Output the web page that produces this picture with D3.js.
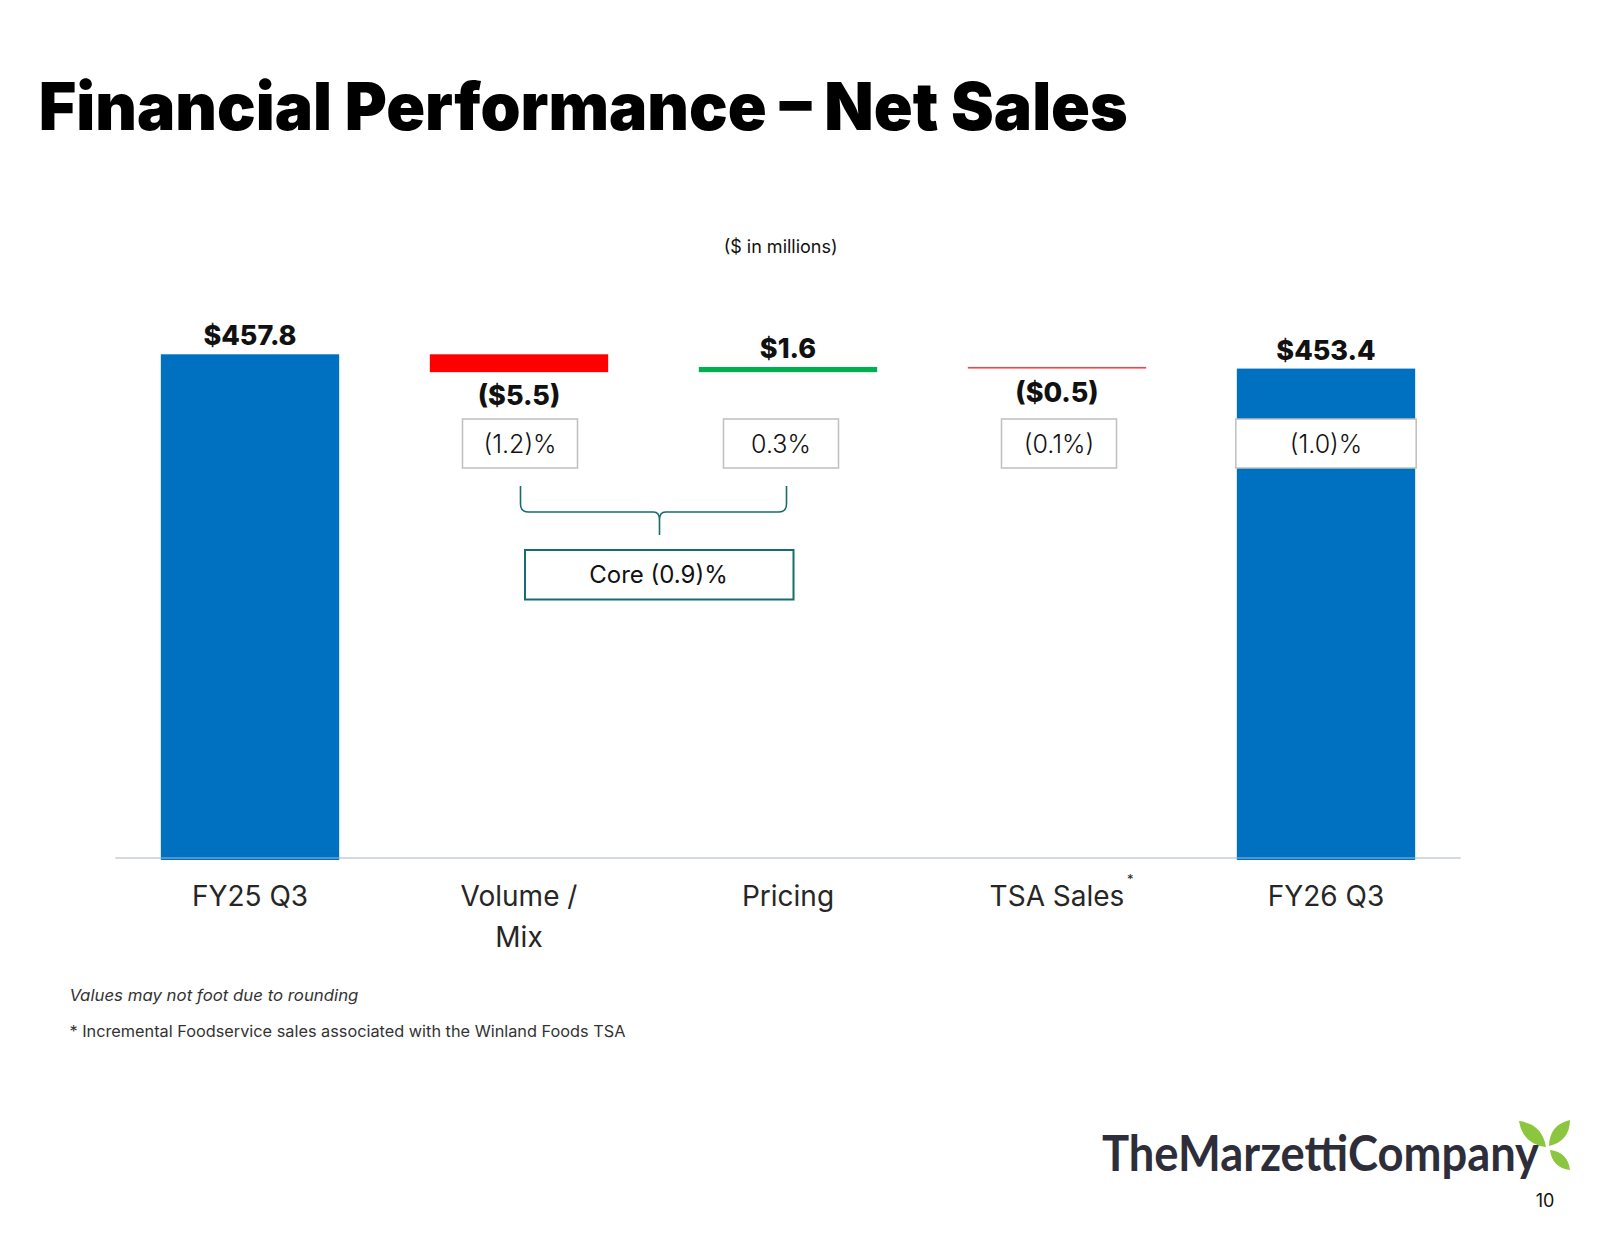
<!DOCTYPE html>
<html>
<head>
<meta charset="utf-8">
<script src="https://cdn.jsdelivr.net/npm/d3@7"></script>
<style>
  html, body { margin: 0; padding: 0; background: #fff; }
  svg { display: block; }
</style>
</head>
<body>
<svg id="chart" width="1600" height="1237"></svg>
<script>
// ---------------- DATA ----------------
const categories = ["FY25 Q3", "Volume / Mix", "Pricing", "TSA Sales", "FY26 Q3"];
const categoryLines = [["FY25 Q3"], ["Volume /", "Mix"], ["Pricing"], ["TSA Sales"], ["FY26 Q3"]];
const values = [457.8, -5.5, 1.6, -0.5, 453.4];
const kinds = ["total", "delta", "delta", "delta", "total"];
const valueLabels = ["$457.8", "($5.5)", "$1.6", "($0.5)", "$453.4"];
const pctLabels = [null, "(1.2)%", "0.3%", "(0.1%)", "(1.0)%"];
const coreLabel = "Core (0.9)%";
const coreGroup = ["Volume / Mix", "Pricing"];
const yDomain = [302, 457.8];

// ---------------- LAYOUT ----------------
const svg = d3.select("#chart");
const FONT = "Inter, 'Open Sans', sans-serif";

const x = d3.scaleBand().domain(categories).range([115.5, 1460.5]).paddingInner(0.337).paddingOuter(0.1685);
const y = d3.scaleLinear().domain(yDomain).range([860, 354.3]);

// waterfall
let run = 0;
const bars = categories.map((c, i) => {
  let lo, hi;
  if (kinds[i] === "total") { lo = yDomain[0]; hi = values[i]; run = values[i]; }
  else { const start = run; run = run + values[i]; lo = Math.min(start, run); hi = Math.max(start, run); }
  return { cat: c, v: values[i], kind: kinds[i], lo, hi, label: valueLabels[i], pct: pctLabels[i], i };
});
const colorFor = d => d.kind === "total" ? "#0070C0" : (d.v < 0 ? "#FF0000" : "#00B050");

// Title
svg.append("text")
  .attr("x", 38.8).attr("y", 129.6)
  .attr("font-family", FONT).attr("font-weight", 900).attr("font-size", 66)
  .attr("textLength", 1089).attr("lengthAdjust", "spacingAndGlyphs")
  .attr("fill", "#000")
  .text("Financial Performance \u2013 Net Sales");

// subtitle
svg.append("text")
  .attr("x", 780.6).attr("y", 253).attr("text-anchor", "middle")
  .attr("font-family", FONT).attr("font-size", 18).attr("fill", "#111")
  .text("($ in millions)");

// Axis line (behind)
svg.append("line")
  .attr("x1", 115.5).attr("x2", 1460.5).attr("y1", 858).attr("y2", 858)
  .attr("stroke", "#d9d9d9").attr("stroke-width", 1.5);

// Bars
svg.append("g").selectAll("rect").data(bars).join("rect")
  .attr("x", d => x(d.cat))
  .attr("width", x.bandwidth())
  .attr("y", d => y(d.hi))
  .attr("height", d => Math.max(1, y(d.lo) - y(d.hi)))
  .attr("fill", colorFor)
  .attr("opacity", d => (d.kind === "delta" && Math.abs(d.v) < 1) ? 0.75 : 1);

// light line across bottoms of bars
svg.append("line")
  .attr("x1", 115.5).attr("x2", 1460.5).attr("y1", 858).attr("y2", 858)
  .attr("stroke", "rgba(190,205,220,0.55)").attr("stroke-width", 1.5);

// Value labels
svg.append("g").selectAll("text").data(bars).join("text")
  .attr("x", d => x(d.cat) + x.bandwidth() / 2)
  .attr("y", d => (d.kind === "delta" && d.v < 0) ? y(d.lo) + 33 : y(d.hi) - 9)
  .attr("text-anchor", "middle")
  .attr("font-family", FONT).attr("font-weight", 800).attr("font-size", 27)
  .attr("fill", "#111")
  .text(d => d.label);

// Percent boxes
const pctOffsets = [0, 1, -7, 2, 0];
const pctBars = bars.filter(d => d.pct);
const pg = svg.append("g");
pg.selectAll("rect").data(pctBars).join("rect")
  .attr("x", d => { const w = d.kind === "total" ? x.bandwidth() + 2 : 115; return x(d.cat) + x.bandwidth() / 2 + pctOffsets[d.i] - w / 2; })
  .attr("width", d => d.kind === "total" ? x.bandwidth() + 2 : 115)
  .attr("y", 419).attr("height", 49)
  .attr("fill", "#fff").attr("stroke", "#bfbfbf").attr("stroke-width", 1.5);
pg.selectAll("text").data(pctBars).join("text")
  .attr("x", d => x(d.cat) + x.bandwidth() / 2 + pctOffsets[d.i])
  .attr("y", 453)
  .attr("text-anchor", "middle")
  .attr("font-family", FONT).attr("font-weight", 300).attr("font-size", 25)
  .attr("fill", "#111")
  .text(d => d.pct);

// Bracket for core
const teal = "#166c6f";
const L = x(coreGroup[0]) + x.bandwidth() / 2 + 1.5;
const R = x(coreGroup[1]) + x.bandwidth() / 2 - 1.5;
const C = (L + R) / 2 + 6;
const yTop = 486, yH = 512, yTip = 535;
svg.append("path")
  .attr("d", `M${L},${yTop} V${yH - 8} Q${L},${yH} ${L + 8},${yH} H${C - 6} Q${C},${yH} ${C},${yH + 8} V${yTip}
              M${C},${yH + 8} Q${C},${yH} ${C + 6},${yH} H${R - 8} Q${R},${yH} ${R},${yH - 8} V${yTop}`)
  .attr("fill", "none").attr("stroke", teal).attr("stroke-width", 1.6);

svg.append("rect")
  .attr("x", C - 134.5).attr("y", 550).attr("width", 268.5).attr("height", 49.5)
  .attr("fill", "#fff").attr("stroke", teal).attr("stroke-width", 2);
svg.append("text")
  .attr("x", C - 1).attr("y", 582.5).attr("text-anchor", "middle")
  .attr("font-family", FONT).attr("font-weight", 400).attr("font-size", 24)
  .attr("fill", "#111")
  .text(coreLabel);

// Category labels
const cg = svg.append("g");
categories.forEach((c, i) => {
  const t = cg.append("text")
    .attr("x", x(c) + x.bandwidth() / 2)
    .attr("y", 906)
    .attr("text-anchor", "middle")
    .attr("font-family", FONT).attr("font-size", 28).attr("fill", "#262626");
  categoryLines[i].forEach((ln, k) => {
    t.append("tspan").attr("x", x(c) + x.bandwidth() / 2).attr("dy", k === 0 ? 0 : 41).text(ln);
  });
});
// asterisk on TSA Sales
svg.append("text")
  .attr("x", x("TSA Sales") + x.bandwidth() / 2 + 70).attr("y", 884)
  .attr("font-family", FONT).attr("font-size", 13).attr("fill", "#262626")
  .text("*");

// Footnotes
svg.append("text")
  .attr("x", 69.4).attr("y", 1000.5)
  .attr("font-family", FONT).attr("font-style", "italic").attr("font-size", 16)
  .attr("textLength", 289).attr("lengthAdjust", "spacingAndGlyphs")
  .attr("fill", "#333")
  .text("Values may not foot due to rounding");
svg.append("text")
  .attr("x", 69.4).attr("y", 1037)
  .attr("font-family", FONT).attr("font-size", 16)
  .attr("textLength", 556).attr("lengthAdjust", "spacingAndGlyphs")
  .attr("fill", "#333")
  .text("* Incremental Foodservice sales associated with the Winland Foods TSA");

// Logo
svg.append("text")
  .attr("x", 1102).attr("y", 1171)
  .attr("font-family", "Lato, 'Open Sans', sans-serif").attr("font-weight", 700).attr("font-size", 50)
  .attr("textLength", 437).attr("lengthAdjust", "spacingAndGlyphs")
  .attr("fill", "#2e2e3a")
  .text("TheMarzettiCompany");
const leaf = (x1, y1, x2, y2, bulge) => {
  const mx = (x1 + x2) / 2, my = (y1 + y2) / 2;
  const dx = x2 - x1, dy = y2 - y1, len = Math.hypot(dx, dy);
  const nx = -dy / len * bulge, ny = dx / len * bulge;
  return `M${x1},${y1} Q${mx + nx},${my + ny} ${x2},${y2} Q${mx - nx},${my - ny} ${x1},${y1} Z`;
};
const lg = svg.append("g").attr("fill", "#8cc63f");
lg.append("path").attr("d", leaf(1546, 1147, 1519, 1121, 14));
lg.append("path").attr("d", leaf(1549, 1146, 1570, 1120, 13));
lg.append("path").attr("d", leaf(1550, 1150, 1570, 1170, 11));

// page number
svg.append("text")
  .attr("x", 1545).attr("y", 1207).attr("text-anchor", "middle")
  .attr("font-family", FONT).attr("font-size", 18).attr("fill", "#111")
  .text("10");
</script>
</body>
</html>
